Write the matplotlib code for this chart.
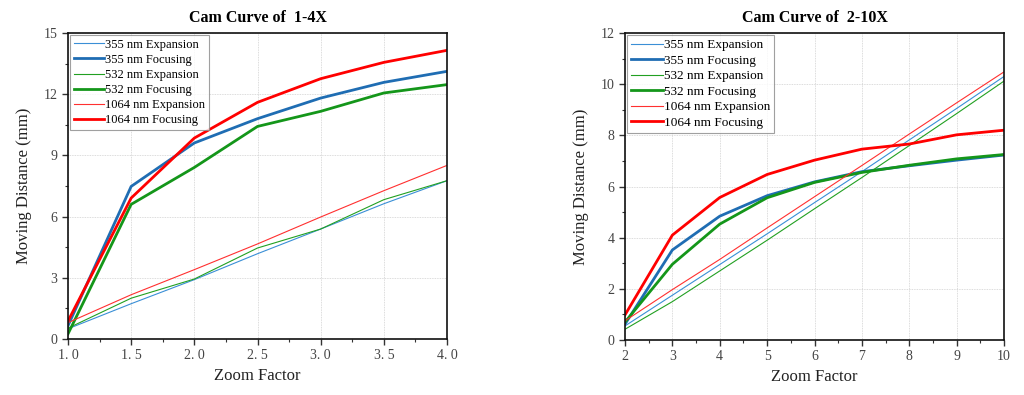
import matplotlib
matplotlib.use("Agg")
import matplotlib.pyplot as plt
from matplotlib.ticker import MultipleLocator

plt.rcParams['font.family'] = ['Liberation Serif', 'DejaVu Serif']

# Left chart: 1-4X
zoom_a = [1.0, 1.5, 2.0, 2.5, 3.0, 3.5, 4.0]
a_355_exp = [0.50, 1.73, 2.91, 4.18, 5.39, 6.63, 7.76]
a_355_foc = [0.65, 7.48, 9.61, 10.80, 11.81, 12.58, 13.12]
a_532_exp = [0.53, 2.00, 2.94, 4.46, 5.39, 6.83, 7.76]
a_532_foc = [0.25, 6.60, 8.41, 10.42, 11.16, 12.06, 12.47]
a_1064_exp = [0.80, 2.17, 3.40, 4.66, 5.98, 7.27, 8.51]
a_1064_foc = [0.88, 6.91, 9.85, 11.60, 12.76, 13.56, 14.15]
a_ticklabels = ["1. 0", "1. 5", "2. 0", "2. 5", "3. 0", "3. 5", "4. 0"]

# Right chart: 2-10X
zoom_b = [2, 3, 4, 5, 6, 7, 8, 9, 10]
b_355_exp = [0.55, 1.75, 2.95, 4.15, 5.37, 6.58, 7.82, 9.05, 10.30]
b_355_foc = [0.62, 3.52, 4.84, 5.64, 6.18, 6.58, 6.81, 7.03, 7.23]
b_532_exp = [0.42, 1.50, 2.70, 3.90, 5.13, 6.35, 7.60, 8.85, 10.12]
b_532_foc = [0.70, 2.96, 4.53, 5.56, 6.16, 6.55, 6.83, 7.08, 7.25]
b_1064_exp = [0.75, 1.97, 3.15, 4.38, 5.60, 6.82, 8.05, 9.27, 10.48]
b_1064_foc = [0.98, 4.10, 5.57, 6.47, 7.03, 7.46, 7.66, 8.02, 8.20]

labels = ["355 nm Expansion", "355 nm Focusing", "532 nm Expansion",
          "532 nm Focusing", "1064 nm Expansion", "1064 nm Focusing"]
colors = ["#3a8fd6", "#1f6db3", "#22a022", "#14961a", "#ff3030", "#ff0000"]
widths = [0.8, 2.0, 0.8, 2.0, 0.8, 2.0]

fig = plt.figure(figsize=(10.24, 3.95), dpi=100)
W, H = 1024, 395
ax1 = fig.add_axes([68 / W, 1 - 339 / H, (447 - 68) / W, (339 - 33) / H])
ax2 = fig.add_axes([625 / W, 1 - 340 / H, (1004 - 625) / W, (340 - 33) / H])


def style(ax, x, series, xlim, ylim, ymajor, xmajor, xminor, title, legsize,
          xticklabels=None):
    for s, lab, c, lw in zip(series, labels, colors, widths):
        ax.plot(x, s, color=c, lw=lw, label=lab)
    ax.set_xlim(*xlim)
    ax.set_ylim(*ylim)
    ax.xaxis.set_major_locator(MultipleLocator(xmajor))
    ax.xaxis.set_minor_locator(MultipleLocator(xminor))
    ax.yaxis.set_major_locator(MultipleLocator(ymajor))
    ax.yaxis.set_minor_locator(MultipleLocator(ymajor / 2))
    if xticklabels is not None:
        ax.set_xticks(x)
        ax.set_xticklabels(xticklabels)
    ax.grid(True, which='major', color='#d0d0d0', linestyle=(0, (1, 1)), lw=0.6)
    ax.tick_params(which='major', direction='out', length=4, width=1, labelsize=10,
                   colors='#333333', labelcolor='#444444')
    ax.tick_params(which='minor', direction='out', length=2, width=0.8, colors='#333333')
    for sp in ax.spines.values():
        sp.set_linewidth(1.2)
        sp.set_color('#111111')
    ax.set_xlabel("Zoom Factor", fontsize=12, color='#222222', labelpad=4)
    ax.set_ylabel("Moving Distance (mm)", fontsize=12, color='#222222', labelpad=8)
    ax.set_title(title, fontsize=11.5, fontweight='bold', pad=8)
    leg = ax.legend(loc='upper left', fontsize=legsize, frameon=True, fancybox=False,
                    borderaxespad=0.15, borderpad=0.3, labelspacing=0.25,
                    handlelength=2.4, handletextpad=0.1, edgecolor='#888888')
    leg.get_frame().set_linewidth(0.8)


style(ax1, zoom_a, [a_355_exp, a_355_foc, a_532_exp, a_532_foc, a_1064_exp, a_1064_foc],
      (1.0, 4.0), (0, 15), 3, 0.5, 0.25, "Cam Curve of  1-4X", 9,
      xticklabels=a_ticklabels)
style(ax2, zoom_b, [b_355_exp, b_355_foc, b_532_exp, b_532_foc, b_1064_exp, b_1064_foc],
      (2, 10), (0, 12), 2, 1, 0.5, "Cam Curve of  2-10X", 9.5)

fig.savefig("out.png", dpi=100)
